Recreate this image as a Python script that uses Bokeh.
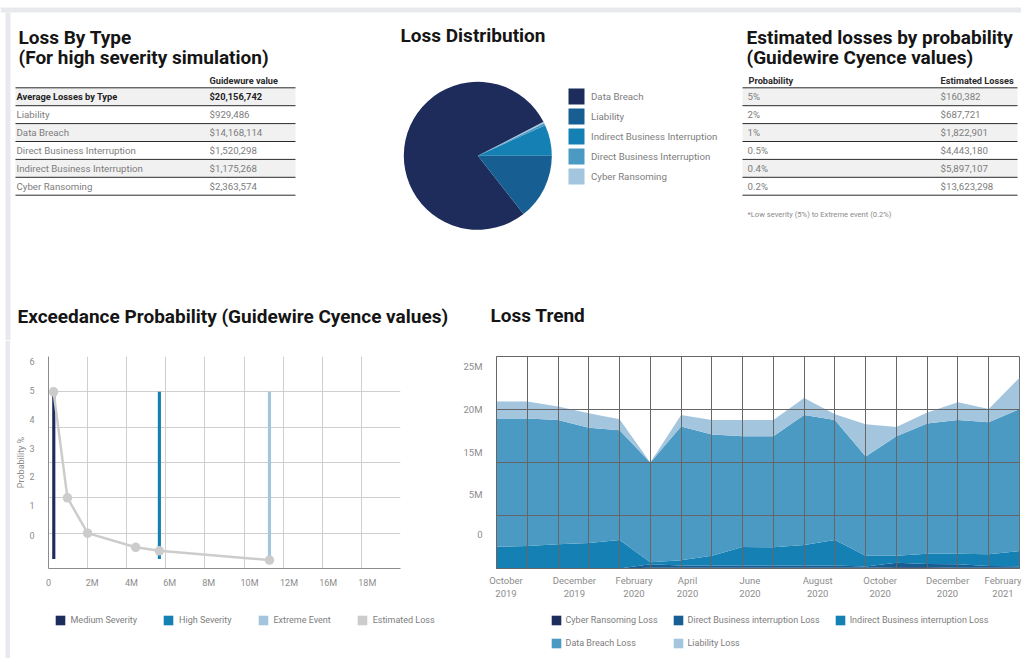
import math
from bokeh.plotting import figure
from bokeh.layouts import column, row
from bokeh.models import Range1d, ColumnDataSource, Legend, LegendItem, FixedTicker
from bokeh.core.properties import value
from bokeh.embed import file_html
from bokeh.resources import INLINE

FONT = "Roboto"
GREY = "#7d7d7d"
DARK = "#151515"
STRIP = "#e8e9ec"

# ---------------- data ----------------
loss_types = ["Liability", "Data Breach", "Direct Business Interruption",
              "Indirect Business Interruption", "Cyber Ransoming"]
loss_values = ["$929,486", "$14,168,114", "$1,520,298", "$1,175,268", "$2,363,574"]
avg_label = "Average Losses by Type"
avg_total = "$20,156,742"

prob_labels = ["5%", "2%", "1%", "0.5%", "0.4%", "0.2%"]
prob_losses = ["$160,382", "$687,721", "$1,822,901", "$4,443,180", "$5,897,107", "$13,623,298"]
footnote = "*Low severity (5%) to Extreme event (0.2%)"

pie_labels = ["Data Breach", "Liability", "Indirect Business Interruption",
              "Direct Business Interruption", "Cyber Ransoming"]
pie_shares = [78.0, 14.4, 6.8, 0.5, 0.3]
pie_colors = ["#1d2c5b", "#175e93", "#1580b3", "#4b9ac4", "#a3c5de"]
pie_order = [2, 3, 4, 0, 1]   # counter-clockwise from 3 o'clock

exc_loss_m = [0.26, 0.97, 2.0, 4.46, 5.67, 11.3]
exc_prob = [5, 2, 1, 0.6, 0.5, 0.24]
sev_names = ["Medium Severity", "High Severity", "Extreme Event"]
sev_loss_m = [0.27, 5.67, 11.3]
sev_low = [0.27, 0.27, 0.27]
sev_high = [5, 5, 5]
sev_colors = ["#1d2c5b", "#1580b3", "#a3c5de"]
est_name = "Estimated Loss"
est_color = "#cccccc"
exc_xtick_pos = [0, 2.23, 4.24, 6.2, 8.19, 10.28, 12.3, 14.3, 16.3]
exc_xtick_labels = ["0", "2M", "4M", "6M", "8M", "10M", "12M", "16M", "18M"]
exc_ytick_pos = [0.94, 1.79, 2.59, 3.41, 4.21, 5.03, 5.86]
exc_ytick_labels = ["0", "1", "2", "3", "4", "5", "6"]

trend_months = ["Oct 2019", "Nov 2019", "Dec 2019", "Jan 2020", "Feb 2020", "Mar 2020",
                "Apr 2020", "May 2020", "Jun 2020", "Jul 2020", "Aug 2020", "Sep 2020",
                "Oct 2020", "Nov 2020", "Dec 2020", "Jan 2021", "Feb 2021", "Mar 2021"]
cyber_loss_m = [0, 0, 0, 0, 0, 0.1, 0.1, 0.1, 0.1, 0.1, 0.1, 0.1, 0.1, 0.15, 0.15, 0.1, 0.1, 0.1]
direct_loss_m = [0, 0, 0, 0, 0, 0.4, 0.25, 0.25, 0.25, 0.25, 0.25, 0.25, 0.15, 0.53, 0.38, 0.4, 0.2, 0.15]
indirect_loss_m = [2.56, 2.65, 2.85, 3.0, 3.35, 0.23, 0.61, 1.15, 2.18, 2.15, 2.41, 3.0, 1.25, 0.82,
                   1.21, 1.24, 1.37, 1.81]
breach_loss_m = [15.14, 15.05, 14.65, 13.6, 12.95, 11.77, 15.79, 14.3, 13.07, 13.1, 15.34, 14.15,
                 11.7, 14.1, 15.36, 15.76, 15.58, 16.74]
liability_loss_m = [2.0, 2.0, 1.6, 1.7, 1.3, 0.0, 1.35, 1.7, 1.9, 1.9, 2.0, 0.7, 3.8, 1.1, 1.3,
                    2.1, 1.55, 3.7]
trend_series = ["Cyber Ransoming Loss", "Direct Business interruption Loss",
                "Indirect Business interruption Loss", "Data Breach Loss", "Liability Loss"]
trend_colors = ["#1d2c5b", "#175e93", "#1580b3", "#4b9ac4", "#a3c5de"]
# label centres sit just right of every second month (labels start at the month line)
trend_xtick_pos = [0.31, 2.53, 4.47, 6.21, 8.24, 10.44, 12.47, 14.66, 16.63]
trend_xtick_labels = ["October\n2019", "December\n2019", "February\n2020", "April\n2020",
                      "June\n2020", "August\n2020", "October\n2020", "December\n2020",
                      "February\n2021"]
trend_ytick_pos = [4.06, 8.67, 13.65, 18.76, 23.78]
trend_ytick_labels = ["0", "5M", "15M", "20M", "25M"]

TOP_H = 340          # header figure: tables, pie and the chart titles
CHART_H = 270        # chart figures
LEG_H = 48           # legend strip below the charts


def bare(w, h, xr, yr):
    return figure(width=w, height=h, x_range=xr, y_range=yr, title=None,
                  toolbar_location=None, output_backend="svg", min_border=0,
                  x_axis_type=None, y_axis_type=None, outline_line_color=None)


# ---------------- header figure (tables + pie + titles) ----------------
top = bare(1021, TOP_H, Range1d(0, 1021), Range1d(0, TOP_H))


def Y(v):
    return TOP_H - v


# page frame strips
top.quad(left=[0, 5], right=[1021, 10], top=[Y(7), Y(12)], bottom=[Y(12), 0],
         fill_color=STRIP, line_color=None)

top.text(x=[18, 18, 400, 746, 746, 17, 490],
         y=[Y(36.6), Y(57), Y(35.3), Y(36.6), Y(57), Y(315.7), Y(315.3)],
         text=["Loss By Type", "(For high severity simulation)", "Loss Distribution",
               "Estimated losses by probability", "(Guidewire Cyence values)",
               "Exceedance Probability (Guidewire Cyence values)", "Loss Trend"],
         text_font=value(FONT), text_font_style="bold", text_font_size="19px",
         text_color=DARK, text_baseline="alphabetic")

ROW_TOP = 87.3
ROW_H = 17.9


def table(x0, x1, tx0, tx1, names, vals, first_bold, headers):
    n = len(names)
    shade = [i for i in range(n) if i % 2 == 0]
    top.quad(left=x0, right=x1, top=[Y(ROW_TOP + i * ROW_H) for i in shade],
             bottom=[Y(ROW_TOP + (i + 1) * ROW_H) for i in shade],
             fill_color="#f1f1f1", line_color=None)
    ly = [Y(ROW_TOP + k * ROW_H) for k in range(n + 1)]
    top.segment(x0=x0, x1=x1, y0=ly, y1=ly, line_color="#2a2a2a", line_width=1)
    ys = [Y(ROW_TOP + (i + 0.5) * ROW_H) for i in range(n)]
    styles = [("bold" if (first_bold and i == 0) else "normal") for i in range(n)]
    cols = [("#222222" if (first_bold and i == 0) else GREY) for i in range(n)]
    sizes = [("9.3px" if (first_bold and i == 0) else "9.7px") for i in range(n)]
    for tx, txt in ((tx0, names), (tx1, vals)):
        top.text(x=tx, y=ys, text=txt, text_font=value(FONT), text_font_style=styles,
                 text_color=cols, text_font_size=sizes, text_baseline="middle")
    hx = [h[0] for h in headers]
    ht = [h[1] for h in headers]
    top.text(x=hx, y=Y(80), text=ht, text_font=value(FONT), text_font_style="bold",
             text_color="#2a2a2a", text_font_size="9.2px", text_baseline="alphabetic")


table(15, 295, 16, 209, [avg_label] + loss_types, [avg_total] + loss_values, True,
      [(209, "Guidewure value")])
table(742, 1017, 747, 940, prob_labels, prob_losses, False,
      [(748, "Probability"), (940, "Estimated Losses")])
top.text(x=747, y=Y(214), text=[footnote], text_font=value(FONT), text_font_size="7.6px",
         text_color="#8a8a8a", text_baseline="middle")

# pie
ordered = [pie_shares[i] for i in pie_order]
starts, ends, acc = [], [], 0.0
for s in ordered:
    starts.append(acc / 100 * 2 * math.pi)
    acc += s
    ends.append(acc / 100 * 2 * math.pi)
pie_src = ColumnDataSource(dict(start=starts, end=ends, color=[pie_colors[i] for i in pie_order]))
wr = top.wedge(x=477.3, y=Y(155.3), radius=74, start_angle="start", end_angle="end",
               fill_color="color", line_color=None, source=pie_src)
pie_items = [LegendItem(label=pie_labels[i], renderers=[wr], index=pie_order.index(i))
             for i in range(len(pie_labels))]
pie_leg = Legend(items=pie_items, location=(566, Y(186)), orientation="vertical",
                 glyph_width=20, glyph_height=20, label_height=20, spacing=0, padding=0,
                 margin=0, label_standoff=5, label_text_font=FONT, label_text_font_size="9.7px",
                 label_text_color=GREY, border_line_color=None, background_fill_alpha=0)
top.add_layout(pie_leg)

# ---------------- exceedance probability ----------------
exc = figure(width=450, height=CHART_H, x_range=Range1d(0, 18), y_range=Range1d(0, 6),
             title=None, toolbar_location=None, output_backend="svg", min_border_left=38,
             min_border_right=60, min_border_top=16, min_border_bottom=CHART_H - 16 - 212,
             outline_line_color=None)
sev_src = ColumnDataSource(dict(x=sev_loss_m, lo=sev_low, hi=sev_high, c=sev_colors))
exc.vbar(x="x", bottom="lo", top="hi", width=0.16, fill_color="c", line_color=None,
         source=sev_src)
exc.line(exc_loss_m, exc_prob, line_color=est_color, line_width=2.5)
exc.scatter(exc_loss_m, exc_prob, size=9.5, fill_color=est_color, line_color=None)

exc.xaxis.ticker = FixedTicker(ticks=exc_xtick_pos)
exc.xaxis.major_label_overrides = dict(zip(exc_xtick_pos, exc_xtick_labels))
exc.yaxis.ticker = FixedTicker(ticks=exc_ytick_pos)
exc.yaxis.major_label_overrides = dict(zip(exc_ytick_pos, exc_ytick_labels))
exc.xgrid.ticker = FixedTicker(ticks=list(range(0, 19, 2)))
exc.ygrid.ticker = FixedTicker(ticks=list(range(0, 7)))
exc.grid.grid_line_color = "#cfcfcf"
exc.grid.grid_line_width = 1
exc.yaxis.axis_label = "Probability %"
for ax in (exc.xaxis, exc.yaxis):
    ax.major_tick_line_color = None
    ax.minor_tick_line_color = None
    ax.axis_line_color = "#8c8c8c"
    ax.major_label_text_font = FONT
    ax.major_label_text_font_size = "9px"
    ax.major_label_text_color = "#8c8c8c"
    ax.major_label_standoff = 8
exc.xaxis.major_label_standoff = 3
exc.yaxis.axis_label_text_font = FONT
exc.yaxis.axis_label_text_font_size = "9px"
exc.yaxis.axis_label_text_font_style = "normal"
exc.yaxis.axis_label_text_color = "#8c8c8c"
exc.yaxis.axis_label_standoff = 0

# ---------------- loss trend ----------------
trend = figure(width=561, height=CHART_H, x_range=Range1d(0, len(trend_months) - 1),
               y_range=Range1d(0, 25), title=None, toolbar_location=None,
               output_backend="svg", min_border_left=30, min_border_right=2,
               min_border_top=15, min_border_bottom=CHART_H - 15 - 213,
               outline_line_color="#666666")
tsrc = ColumnDataSource(dict(x=list(range(len(trend_months))), cyber=cyber_loss_m,
                             direct=direct_loss_m, indirect=indirect_loss_m,
                             breach=breach_loss_m, liability=liability_loss_m))
stack_keys = ["cyber", "direct", "indirect", "breach", "liability"]
trend.varea_stack(stackers=stack_keys, x="x", color=trend_colors, source=tsrc)
trend.xaxis.ticker = FixedTicker(ticks=trend_xtick_pos)
trend.xaxis.major_label_overrides = dict(zip(trend_xtick_pos, trend_xtick_labels))
trend.yaxis.ticker = FixedTicker(ticks=trend_ytick_pos)
trend.yaxis.major_label_overrides = dict(zip(trend_ytick_pos, trend_ytick_labels))
trend.xgrid.ticker = FixedTicker(ticks=list(range(len(trend_months))))
trend.ygrid.ticker = FixedTicker(ticks=[0, 6.25, 12.5, 18.75, 25])
trend.grid.grid_line_color = "#666666"
trend.grid.grid_line_width = 1
trend.grid.level = "overlay"
for ax in (trend.xaxis, trend.yaxis):
    ax.major_tick_line_color = None
    ax.minor_tick_line_color = None
    ax.axis_line_color = "#666666"
    ax.major_label_text_font = FONT
    ax.major_label_text_font_size = "9.5px"
    ax.major_label_text_color = "#8c8c8c"
    ax.major_label_standoff = 8
trend.xaxis.major_label_standoff = 0

# ---------------- legends strip ----------------
leg = bare(1011, LEG_H, Range1d(0, 1), Range1d(0, 1))
leg_kw = dict(orientation="horizontal", glyph_width=12, glyph_height=12, label_height=12,
              padding=0, margin=0, label_text_font=FONT,
              label_text_font_size="9px", label_text_color=GREY,
              border_line_color=None, background_fill_alpha=0)


def swatches(names, colors):
    # legend keys only: their single quad lies outside the strip's visible range
    items = []
    for nm, c in zip(names, colors):
        r = leg.quad(left=[2], right=[3], top=[3], bottom=[2], fill_color=c, line_color=None)
        items.append(LegendItem(label=nm, renderers=[r]))
    return items


exc_items = swatches(sev_names + [est_name], sev_colors + [est_color])
tr_items = swatches(trend_series, trend_colors)
leg.add_layout(Legend(items=exc_items, location=(43.5, 32), spacing=25, label_standoff=5,
                      **leg_kw))
leg.add_layout(Legend(items=tr_items[:3], location=(539.5, 32), spacing=14, label_width=92,
                      label_standoff=4, **leg_kw))
leg.add_layout(Legend(items=tr_items[3:], location=(539.5, 9), spacing=14, label_width=92,
                      label_standoff=4, **leg_kw))

left_strip = bare(10, CHART_H + LEG_H, Range1d(0, 10), Range1d(0, 1))
left_strip.quad(left=[5], right=[10], bottom=[0], top=[1], fill_color=STRIP, line_color=None)

layout = column(top, row(left_strip, column(row(exc, trend), leg)))

open("out.html", "w").write(file_html(layout, INLINE))
